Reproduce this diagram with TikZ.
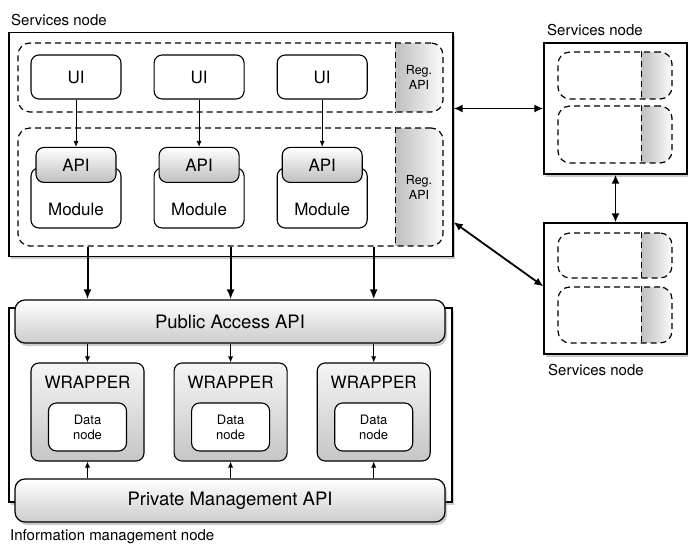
\documentclass[tikz,border=0pt]{standalone}
\usepackage{fontspec}
\setmainfont{TeX Gyre Heros}
\usetikzlibrary{positioning, arrows.meta, shadows}

\begin{document}
\begin{tikzpicture}[x=1pt, y=-1pt]
	% Define styles
	\tikzset{
		outer/.style={rectangle, draw, line width=1.3pt, fill=white, drop shadow={shadow xshift=2pt, shadow yshift=-3pt, opacity=0.4}},
		group/.style={rectangle, draw, line width=1.2pt, dash pattern=on 6pt off 4pt, rounded corners=12pt},
		regpart/.style={group, path picture={
			\foreach \i [evaluate=\i as \c using int(48-3*\i)] in {15,14,...,0}
				\path[draw=none, sharp corners, fill=gray!\c] ([xshift=-#1+\i*#1/16]path picture bounding box.north east) rectangle ([xshift=-#1+\i*#1/16+#1/16+1.5pt]path picture bounding box.south east);
		}},
		divider/.style={line width=1.2pt, dash pattern=on 6pt off 4pt},
		box/.style={rectangle, draw, line width=1.1pt, rounded corners=8pt, fill=white, minimum width=90pt, font=\fontsize{17}{20}\selectfont},
		apibox/.style={box, minimum width=80pt, minimum height=35pt, top color=white, bottom color=gray!50},
		bar/.style={rectangle, draw, line width=1.2pt, rounded corners=10pt, top color=white, bottom color=gray!40, minimum width=430pt, minimum height=43pt, font=\fontsize{18.5}{22}\selectfont, drop shadow={shadow xshift=2pt, shadow yshift=-3pt, opacity=0.4}},
		wrapper/.style={rectangle, draw, line width=1.1pt, rounded corners=8pt, top color=gray!8, bottom color=gray!45, minimum width=113pt, minimum height=98pt},
		datanode/.style={rectangle, draw, line width=1.1pt, rounded corners=8pt, fill=white, minimum width=78pt, minimum height=48pt, align=center, font=\fontsize{13}{15}\selectfont},
		txt/.style={inner sep=0pt, font=\fontsize{17}{20}\selectfont},
		regtxt/.style={inner sep=0pt, align=center, font=\fontsize{12.5}{15}\selectfont},
		caption/.style={inner sep=0pt, anchor=west, font=\fontsize{15}{18}\selectfont},
		line/.style={draw, line width=0.8pt, -{Latex[length=6pt, width=5pt]}},
		bigline/.style={draw, line width=2pt, -{Latex[length=10pt, width=8pt]}},
		link/.style={draw, line width=1.8pt, {Latex[length=9pt, width=8pt]}-{Latex[length=9pt, width=8pt]}}
	}
	\useasboundingbox (0,0) rectangle (688,545);
	
	% Services node (main)
	\node[outer, minimum width=444pt, minimum height=224pt] (srv) at (231,144.5) {};
	\node[caption] (srvlbl) at (11,20) {Services node};
	
	\node[regpart=48pt, minimum width=425pt, minimum height=69pt] (grpui) at (230.5,77.5) {};
	\node[regpart=48pt, minimum width=425pt, minimum height=118pt] (grpmod) at (230.5,187) {};
	\draw[divider] ([xshift=-48pt]grpui.north east) -- ([xshift=-48pt]grpui.south east);
	\draw[divider] ([xshift=-48pt]grpmod.north east) -- ([xshift=-48pt]grpmod.south east);
	\node[regtxt] (reg1) at (419,77.5) {Reg.\\API};
	\node[regtxt] (reg2) at (419,187) {Reg.\\API};
	
	\node[box, minimum height=44pt] (ui1) at (76,77) {UI};
	\node[box, minimum height=44pt, right=32pt of ui1] (ui2) {UI};
	\node[box, minimum height=44pt, right=32pt of ui2] (ui3) {UI};
	
	\node[box, minimum height=60pt] (mod1) at (76,198) {};
	\node[box, minimum height=60pt, right=32pt of mod1] (mod2) {};
	\node[box, minimum height=60pt, right=32pt of mod2] (mod3) {};
	
	\node[apibox] (api1) at ([yshift=2.5pt]mod1.north) {API};
	\node[apibox] (api2) at ([yshift=2.5pt]mod2.north) {API};
	\node[apibox] (api3) at ([yshift=2.5pt]mod3.north) {API};
	
	\node[txt] (modtxt1) at ([yshift=19pt]mod1.south) {Module};
	\node[txt] (modtxt2) at ([yshift=19pt]mod2.south) {Module};
	\node[txt] (modtxt3) at ([yshift=19pt]mod3.south) {Module};
	
	% Other services nodes
	\node[outer, minimum width=143pt, minimum height=131pt] (srv2) at (615.5,108.5) {};
	\node[caption] (srv2lbl) at (547,30) {Services node};
	\node[regpart=31pt, minimum width=114pt, minimum height=47pt] (srv2a) at (615,75.5) {};
	\node[regpart=31pt, minimum width=114pt, minimum height=57pt] (srv2b) at (615,134.5) {};
	\draw[divider] ([xshift=-31pt]srv2a.north east) -- ([xshift=-31pt]srv2a.south east);
	\draw[divider] ([xshift=-31pt]srv2b.north east) -- ([xshift=-31pt]srv2b.south east);
	
	\node[outer, minimum width=143pt, minimum height=131pt] (srv3) at (615.5,288.5) {};
	\node[caption] (srv3lbl) at (548,370) {Services node};
	\node[regpart=31pt, minimum width=114pt, minimum height=45pt] (srv3a) at (615,255.5) {};
	\node[regpart=31pt, minimum width=114pt, minimum height=56pt] (srv3b) at (615,315) {};
	\draw[divider] ([xshift=-31pt]srv3a.north east) -- ([xshift=-31pt]srv3a.south east);
	\draw[divider] ([xshift=-31pt]srv3b.north east) -- ([xshift=-31pt]srv3b.south east);
	
	% Information management node
	\node[outer, minimum width=443pt, minimum height=194pt] (info) at (230.5,405) {};
	\node[caption] (infolbl) at (10,537) {Information management node};
	
	\node[bar] (pub) at (230,321.5) {Public Access API};
	\node[bar] (priv) at (230,500.5) {Private Management API};
	
	\node[wrapper] (wrap1) at (87.5,412) {};
	\node[wrapper, right=29pt of wrap1] (wrap2) {};
	\node[wrapper, right=29pt of wrap2] (wrap3) {};
	
	\node[txt] (wraptxt1) at ([yshift=-20pt]wrap1.north) {WRAPPER};
	\node[txt] (wraptxt2) at ([yshift=-20pt]wrap2.north) {WRAPPER};
	\node[txt] (wraptxt3) at ([yshift=-20pt]wrap3.north) {WRAPPER};
	
	\node[datanode] (data1) at ([yshift=-15pt]wrap1.center) {Data\\node};
	\node[datanode] (data2) at ([yshift=-15pt]wrap2.center) {Data\\node};
	\node[datanode] (data3) at ([yshift=-15pt]wrap3.center) {Data\\node};
	
	% Arrows
	\draw[line] (ui1) -- (api1);
	\draw[line] (ui2) -- (api2);
	\draw[line] (ui3) -- (api3);
	
	\draw[bigline] (grpmod.south -| wrap1) -- (pub.north -| wrap1);
	\draw[bigline] (grpmod.south -| wrap2) -- (pub.north -| wrap2);
	\draw[bigline] (grpmod.south -| wrap3) -- (pub.north -| wrap3);
	
	\draw[line] (pub.south -| wrap1) -- (wrap1);
	\draw[line] (pub.south -| wrap2) -- (wrap2);
	\draw[line] (pub.south -| wrap3) -- (wrap3);
	
	\draw[line] (priv.north -| wrap1) -- (wrap1);
	\draw[line] (priv.north -| wrap2) -- (wrap2);
	\draw[line] (priv.north -| wrap3) -- (wrap3);
	
	\draw[link] (srv.east |- srv2.west) -- (srv2.west);
	\draw[link] (srv2) -- (srv3);
	\draw[link] ([yshift=35pt]srv.south east) -- ([yshift=-64pt]srv3.north west);
	
\end{tikzpicture}
\end{document}
